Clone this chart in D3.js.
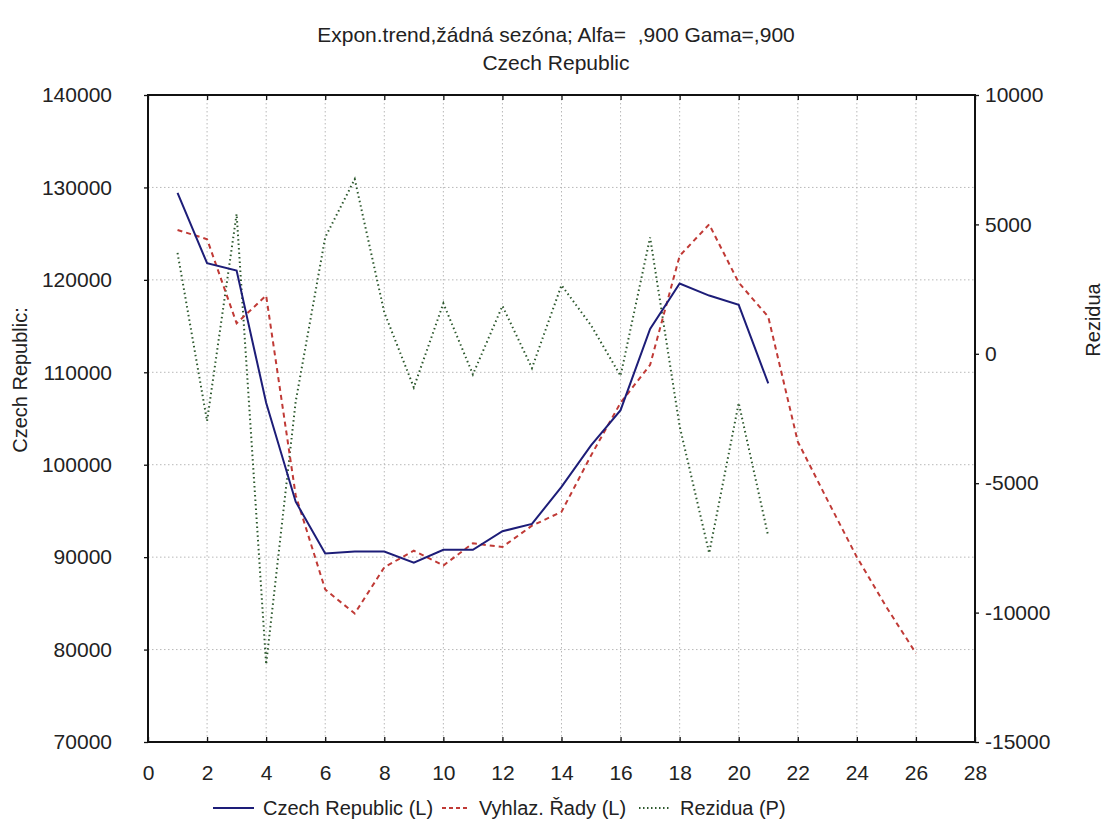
<!DOCTYPE html>
<html>
<head>
<meta charset="utf-8">
<script src="https://cdn.jsdelivr.net/npm/d3@7/dist/d3.min.js"></script>
<style>
  body { margin: 0; background: #fff; }
  svg text { font-family: "Liberation Sans", Arial, sans-serif; fill: #222; white-space: pre; }
</style>
</head>
<body>
<svg id="chart" width="1105" height="825"></svg>
<script>
// Period index of each observation
const periods = [1,2,3,4,5,6,7,8,9,10,11,12,13,14,15,16,17,18,19,20,21];
const forecastPeriods = [1,2,3,4,5,6,7,8,9,10,11,12,13,14,15,16,17,18,19,20,21,22,23,24,25,26];

// Observed series (left axis)
const observed = [129400,121800,121000,106700,96000,90400,90600,90600,89400,90800,
                  90800,92800,93600,97600,102100,105900,114700,119600,118300,117300,108800];

// Exponentially smoothed series incl. forecast (left axis)
const smoothed = [125400,124400,115300,118300,96700,86500,83900,88900,90700,89100,
                  91500,91100,93400,94900,101000,106700,110800,122600,126000,119700,
                  116000,102500,96200,90000,84600,79600];

// Residuals (right axis)
const residuals = [3900,-2600,5400,-12000,-1850,4500,6750,1600,-1300,1950,
                   -800,1850,-550,2650,1100,-850,4500,-2800,-7700,-1900,-7050];

const xTicks = d3.range(0, 29, 2);
const leftTicks = d3.range(70000, 140001, 10000);
const rightTicks = d3.range(-15000, 10001, 5000);

const titleLine1 = "Expon.trend,žádná sezóna; Alfa=  ,900 Gama=,900";
const titleLine2 = "Czech Republic";
const leftTitle = "Czech Republic:";
const rightTitle = "Rezidua";
const legendLabels = ["Czech Republic (L)", "Vyhlaz. Řady (L)", "Rezidua (P)"];

const colors = { observed: "#1d1d78", smoothed: "#c03a36", residuals: "#2c582d" };

const svg = d3.select("#chart");
const plot = { left: 148, right: 975, top: 95, bottom: 742 };

const x = d3.scaleLinear().domain([0, 28]).range([plot.left, plot.right]);
const yL = d3.scaleLinear().domain([70000, 140000]).range([plot.bottom, plot.top]);
const yR = d3.scaleLinear().domain([-15000, 10000]).range([plot.bottom, plot.top]);

// Grid
const grid = svg.append("g").attr("stroke", "#b8b8b8").attr("stroke-width", 1)
  .attr("stroke-dasharray", "1.5,2.5").attr("fill", "none");
grid.selectAll("line.v").data(xTicks.slice(1, -1)).join("line")
  .attr("x1", d => x(d)).attr("x2", d => x(d))
  .attr("y1", plot.top).attr("y2", plot.bottom);
grid.selectAll("line.h").data(leftTicks.slice(1, -1)).join("line")
  .attr("x1", plot.left).attr("x2", plot.right)
  .attr("y1", d => yL(d)).attr("y2", d => yL(d));

// Axes
const fontSize = 21;
const plain = d => String(d);
const axB = svg.append("g").attr("transform", `translate(0,${plot.bottom})`)
  .call(d3.axisBottom(x).tickValues(xTicks).tickSizeInner(-5).tickSizeOuter(0).tickPadding(23).tickFormat(plain));
const axT = svg.append("g").attr("transform", `translate(0,${plot.top})`)
  .call(d3.axisTop(x).tickValues(xTicks).tickSizeInner(-5).tickSizeOuter(0).tickFormat(""));
const axL = svg.append("g").attr("transform", `translate(${plot.left},0)`)
  .call(d3.axisLeft(yL).tickValues(leftTicks).tickSizeInner(4).tickSizeOuter(0).tickPadding(32).tickFormat(plain));
const axR = svg.append("g").attr("transform", `translate(${plot.right},0)`)
  .call(d3.axisRight(yR).tickValues(rightTicks).tickSizeInner(4).tickSizeOuter(0).tickPadding(6).tickFormat(plain));

[axB, axT, axL, axR].forEach(a => {
  a.select(".domain").remove();
  a.selectAll(".tick line").attr("stroke", "#111").attr("stroke-width", 1.3);
  a.selectAll(".tick text").attr("font-size", fontSize).attr("fill", "#222")
    .attr("font-family", "Liberation Sans, Arial, sans-serif");
});

// Frame
svg.append("rect").attr("x", plot.left).attr("y", plot.top)
  .attr("width", plot.right - plot.left).attr("height", plot.bottom - plot.top)
  .attr("fill", "none").attr("stroke", "#111").attr("stroke-width", 2);

// Series
const lineL = d3.line().x(d => x(d[0])).y(d => yL(d[1]));
const lineR = d3.line().x(d => x(d[0])).y(d => yR(d[1]));

svg.append("path").datum(periods.map((p, i) => [p, residuals[i]]))
  .attr("d", lineR).attr("fill", "none").attr("stroke", colors.residuals)
  .attr("stroke-width", 2).attr("stroke-dasharray", "1.5,3").attr("stroke-linecap", "butt");

svg.append("path").datum(forecastPeriods.map((p, i) => [p, smoothed[i]]))
  .attr("d", lineL).attr("fill", "none").attr("stroke", colors.smoothed)
  .attr("stroke-width", 2).attr("stroke-dasharray", "5,4");

svg.append("path").datum(periods.map((p, i) => [p, observed[i]]))
  .attr("d", lineL).attr("fill", "none").attr("stroke", colors.observed)
  .attr("stroke-width", 2);

// Titles
svg.append("text").attr("x", 556).attr("y", 42).attr("text-anchor", "middle")
  .attr("font-size", 21).text(titleLine1);
svg.append("text").attr("x", 556).attr("y", 70).attr("text-anchor", "middle")
  .attr("font-size", 21).text(titleLine2);

svg.append("text").attr("transform", "translate(27,380) rotate(-90)")
  .attr("text-anchor", "middle").attr("font-size", 20).text(leftTitle);
svg.append("text").attr("transform", "translate(1100,320) rotate(-90)")
  .attr("text-anchor", "middle").attr("font-size", 20).text(rightTitle);

// Legend
const legend = svg.append("g").attr("transform", "translate(0,808)");
const legendItems = [
  { label: legendLabels[0], color: colors.observed, dash: null, x0: 213, x1: 254 },
  { label: legendLabels[1], color: colors.smoothed, dash: "4,3", x0: 442, x1: 470 },
  { label: legendLabels[2], color: colors.residuals, dash: "1.5,2.5", x0: 639, x1: 671 }
];
legendItems.forEach(it => {
  legend.append("line").attr("x1", it.x0).attr("x2", it.x1).attr("y1", 0).attr("y2", 0)
    .attr("stroke", it.color).attr("stroke-width", 2)
    .attr("stroke-dasharray", it.dash);
  legend.append("text").attr("x", it.x1 + 9).attr("y", 7).attr("font-size", 20).text(it.label);
});
</script>
</body>
</html>
